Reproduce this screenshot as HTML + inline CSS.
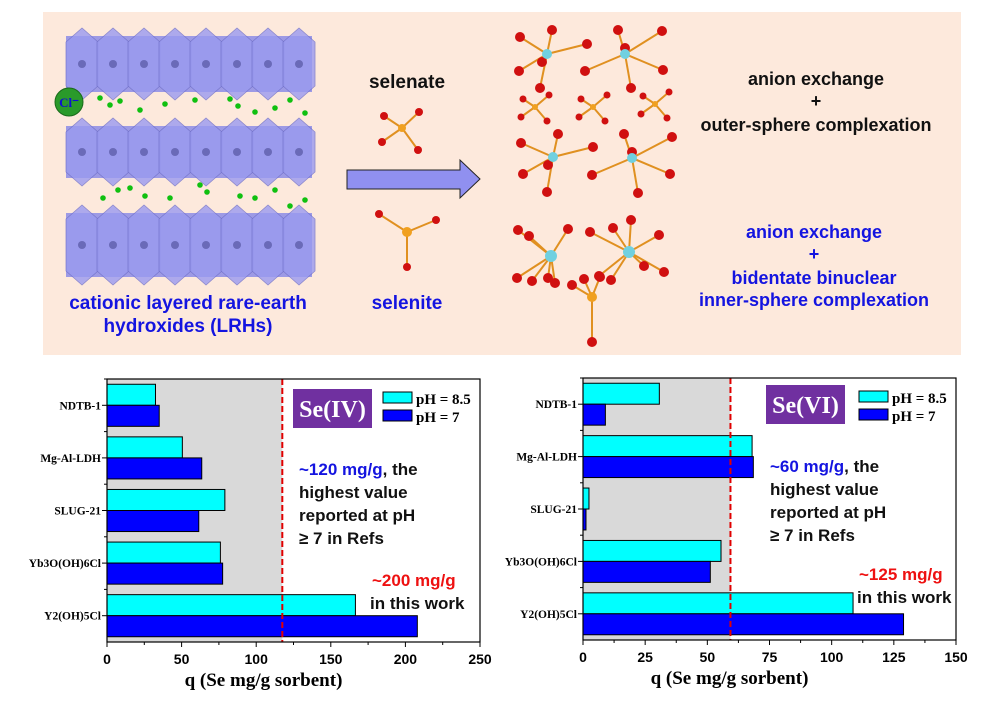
<!DOCTYPE html>
<html><head><meta charset="utf-8">
<style>
html,body{margin:0;padding:0;background:#fff;}
svg{display:block;}
.ser{font-family:"Liberation Serif",serif;font-weight:bold;}
.san{font-family:"Liberation Sans",sans-serif;font-weight:bold;}
</style></head>
<body>
<svg id="root" width="987" height="703" viewBox="0 0 987 703" xmlns="http://www.w3.org/2000/svg">
<rect x="43" y="12" width="918" height="343" fill="#fde9dc"/>
<g id="layers"></g>
<g id="cl"></g>
<circle cx="69" cy="102" r="14" fill="#2a9a2a" stroke="#1a6a1a"/>
<text x="69" y="107" text-anchor="middle" class="ser" font-size="13" fill="#1010d0">Cl⁻</text>
<text x="188" y="309" text-anchor="middle" class="san" font-size="19" fill="#1414e0">cationic layered rare-earth</text>
<text x="188" y="332" text-anchor="middle" class="san" font-size="19" fill="#1414e0">hydroxides (LRHs)</text>
<text x="407" y="88" text-anchor="middle" class="san" font-size="19" fill="#111">selenate</text>
<text x="407" y="309" text-anchor="middle" class="san" font-size="19" fill="#1414e0">selenite</text>
<g id="mols"></g>
<path d="M347 170 H460 V160 L480 179 L460 198 V189 H347 Z" fill="#9090f0" stroke="#222" stroke-width="1"/>
<g class="san" font-size="18" text-anchor="middle">
<text x="816" y="85" fill="#111">anion exchange</text>
<text x="816" y="107" fill="#111">+</text>
<text x="816" y="131" fill="#111">outer-sphere complexation</text>
<text x="814" y="238" fill="#1414e0">anion exchange</text>
<text x="814" y="260" fill="#1414e0">+</text>
<text x="814" y="284" fill="#1414e0">bidentate binuclear</text>
<text x="814" y="306" fill="#1414e0">inner-sphere complexation</text>
</g>
<g id="c1"></g>
<g id="c2"></g>
</svg>
<script>
const categories = ["NDTB-1","Mg-Al-LDH","SLUG-21","Yb3O(OH)6Cl","Y2(OH)5Cl"];
const seIV_pH85 = [32.5, 50.5, 79, 76, 166.5];
const seIV_pH7 = [35, 63.5, 61.5, 77.5, 208];
const seIV_ticks = [0, 50, 100, 150, 200, 250];
const seIV_ref = 117.5;
const seVI_pH85 = [30.7, 68, 2.4, 55.5, 108.6];
const seVI_pH7 = [9, 68.5, 1.2, 51.2, 128.9];
const seVI_ticks = [0, 25, 50, 75, 100, 125, 150];
const seVI_ref = 59.3;

const NS = "http://www.w3.org/2000/svg";
function mk(parent, tag, attrs, text){
  const e = document.createElementNS(NS, tag);
  for (const k in attrs) e.setAttribute(k, attrs[k]);
  if (text !== undefined) e.textContent = text;
  parent.appendChild(e);
  return e;
}

// ---- illustration ----
const L = document.getElementById('layers');
[[28,100],[118,186],[205,285]].forEach(([t,b],i)=>{
  const g = mk(L,'g',{});
  
  
  mk(g,'rect',{x:66,y:t+8,width:246,height:b-t-16,fill:'#8c8ce6',opacity:0.85});
  for(let k=0;k<8;k++){
    const x=66+k*31;
    mk(g,'polygon',{points:`${x},${t+14} ${x+16},${t} ${x+32},${t+14} ${x+32},${b-14} ${x+16},${b} ${x},${b-14}`,fill:'#9a9af0',stroke:'#7070c8','stroke-width':0.8,opacity:0.8});
    mk(g,'circle',{cx:x+16,cy:(t+b)/2,r:4,fill:'#6a6ab8'});
  }
});
const C = document.getElementById('cl');
[[100,98],[110,105],[120,101],[140,110],[165,104],[195,100],[230,99],[238,106],[255,112],[275,108],[290,100],[305,113],[103,198],[118,190],[130,188],[145,196],[170,198],[200,185],[207,192],[240,196],[255,198],[275,190],[290,206],[305,200]].forEach(([x,y])=>{
  const c=mk(C,'circle',{cx:x,cy:y,r:2.8,fill:'#10c010'});
  
  
});
const M = document.getElementById('mols');
function mol(cx,cy,r,arms,center,rad){
  arms.forEach(([dx,dy])=>{
    mk(M,'line',{x1:cx,y1:cy,x2:cx+dx,y2:cy+dy,stroke:'#e09020','stroke-width':2});
  });
  arms.forEach(([dx,dy])=>{mk(M,'circle',{cx:cx+dx,cy:cy+dy,r:r,fill:'#d01010'});});
  mk(M,'circle',{cx:cx,cy:cy,r:rad,fill:center});
}
mol(402,128,4,[[-18,-12],[17,-16],[-20,14],[16,22]],'#f0a020',4);
mol(407,232,4,[[-28,-18],[29,-12],[0,35]],'#f0a020',5);
mol(547,54,5,[[-27,-17],[5,-24],[-28,17],[-7,34],[-5,8],[40,-10]],'#70d0e0',5);
mol(625,54,5,[[-7,-24],[37,-23],[38,16],[6,34],[0,-6],[-40,17]],'#70d0e0',5);
mol(553,157,5,[[-32,-14],[5,-23],[-30,17],[-6,35],[-5,8],[40,-10]],'#70d0e0',5);
mol(632,158,5,[[-8,-24],[40,-21],[38,16],[6,35],[0,-6],[-40,17]],'#70d0e0',5);
mol(535,107,3.5,[[-12,-8],[14,-12],[-14,10],[12,14]],'#f0a020',3);
mol(593,107,3.5,[[-12,-8],[14,-12],[-14,10],[12,14]],'#f0a020',3);
mol(655,104,3.5,[[-12,-8],[14,-12],[-14,10],[12,14]],'#f0a020',3);
mol(551,256,5,[[-33,-26],[-22,-20],[17,-27],[-34,22],[-19,25],[4,27],[-3,22]],'#70d0e0',6);
mol(629,252,5,[[-39,-20],[-16,-24],[2,-32],[30,-17],[35,20],[15,14],[-18,28],[-30,24]],'#70d0e0',6);
mol(592,297,5,[[-8,-18],[-20,-12],[8,-20],[0,45]],'#f0a020',5);

// ---- charts ----
function chart(gid, cfg){
  const g = document.getElementById(gid);
  const {x0,x1,y0,y1,max,ticks,v85,v7,ref} = cfg;
  const sx = v => x0 + (v/max)*(x1-x0);
  const band = (y1-y0)/categories.length;
  const bh = band*0.4;
  const r = mk(g,'rect',{x:x0,y:y0,width:sx(ref)-x0,height:y1-y0,fill:'#d9d9d9'});
  
  
  categories.forEach((c,i)=>{
    const cy = y0 + band*(i+0.5);
    const b1 = mk(g,'rect',{x:x0,y:cy-bh,width:sx(v85[i])-x0,height:bh,fill:'#00ffff',stroke:'#000','stroke-width':1});
    
    
    const b2 = mk(g,'rect',{x:x0,y:cy,width:sx(v7[i])-x0,height:bh,fill:'#0000ff',stroke:'#000','stroke-width':1});
    
    
    const t = mk(g,'text',{x:x0-6,y:cy+4,'text-anchor':'end',class:'ser','font-size':11.5,fill:'#000'},c);
    
    
    mk(g,'line',{x1:x0-5,y1:cy,x2:x0,y2:cy,stroke:'#000'});
    mk(g,'line',{x1:x0-3,y1:y0+band*i,x2:x0,y2:y0+band*i,stroke:'#000'});
  });
  const d = mk(g,'line',{x1:sx(ref),y1:y0,x2:sx(ref),y2:y1,stroke:'#e00000','stroke-width':2,'stroke-dasharray':'6,3'});
  
  
  const fr = mk(g,'rect',{x:x0,y:y0,width:x1-x0,height:y1-y0,fill:'none',stroke:'#000','stroke-width':1.2});
  
  
  ticks.forEach((tv,i)=>{
    mk(g,'line',{x1:sx(tv),y1:y1,x2:sx(tv),y2:y1+5,stroke:'#000'});
    if(i<ticks.length-1){const m=(tv+ticks[i+1])/2; mk(g,'line',{x1:sx(m),y1:y1,x2:sx(m),y2:y1+3,stroke:'#000'});}
    const t = mk(g,'text',{x:sx(tv),y:y1+22,'text-anchor':'middle',class:'san','font-size':14,fill:'#000'},tv);
    
    
  });
  const xt = mk(g,'text',{x:(x0+x1)/2+cfg.titleDx,y:y1+44,'text-anchor':'middle',class:'ser','font-size':19,fill:'#000'},'q (Se mg/g sorbent)');
  
  
  const bx=cfg.bx, by=cfg.by;
  const bd = mk(g,'rect',{x:bx,y:by,width:79,height:39,fill:'#7030a0'});
  
  
  const bt = mk(g,'text',{x:bx+39.5,y:by+28,'text-anchor':'middle',class:'ser','font-size':24,fill:'#fff'},cfg.label);
  
  
  const lx=cfg.lx, ly=cfg.ly;
  [['#00ffff','pH = 8.5'],['#0000ff','pH = 7']].forEach(([col,txt],i)=>{
    const le = mk(g,'rect',{x:lx,y:ly+i*18,width:29,height:11,fill:col,stroke:'#000'});
    
    
    const lt = mk(g,'text',{x:lx+33,y:ly+i*18+12,class:'ser','font-size':15,fill:'#000'},txt);
    
    
  });
  const ax=cfg.ax, ay=cfg.ay;
  const a1 = mk(g,'text',{x:ax,y:ay,class:'san','font-size':17,fill:'#111'});
  
  
  mk(a1,'tspan',{fill:'#1414e0'},cfg.refTxt); mk(a1,'tspan',{},', the');
  ['highest value','reported at pH','≥ 7 in Refs'].forEach((s,i)=>{
    const t=mk(g,'text',{x:ax,y:ay+23*(i+1),class:'san','font-size':17,fill:'#111'},s);
    
    
  });
  const w1 = mk(g,'text',{x:cfg.wx+2,y:cfg.wy,class:'san','font-size':17,fill:'#ee1111'},cfg.workTxt);
  
  
  const w2 = mk(g,'text',{x:cfg.wx,y:cfg.wy+23,class:'san','font-size':17,fill:'#111'},'in this work');
  
  
}
chart('c1',{x0:107,x1:480,y0:379,y1:642,max:250,ticks:seIV_ticks,v85:seIV_pH85,v7:seIV_pH7,ref:seIV_ref,
  bx:293,by:389,label:'Se(IV)',lx:383,ly:392,ax:299,ay:475,refTxt:'~120 mg/g',wx:370,wy:586,workTxt:'~200 mg/g',titleDx:-30});
chart('c2',{x0:583,x1:956,y0:378,y1:640,max:150,ticks:seVI_ticks,v85:seVI_pH85,v7:seVI_pH7,ref:seVI_ref,
  bx:766,by:385,label:'Se(VI)',lx:859,ly:391,ax:770,ay:472,refTxt:'~60 mg/g',wx:857,wy:580,workTxt:'~125 mg/g',titleDx:-40});
</script>
</body></html>
